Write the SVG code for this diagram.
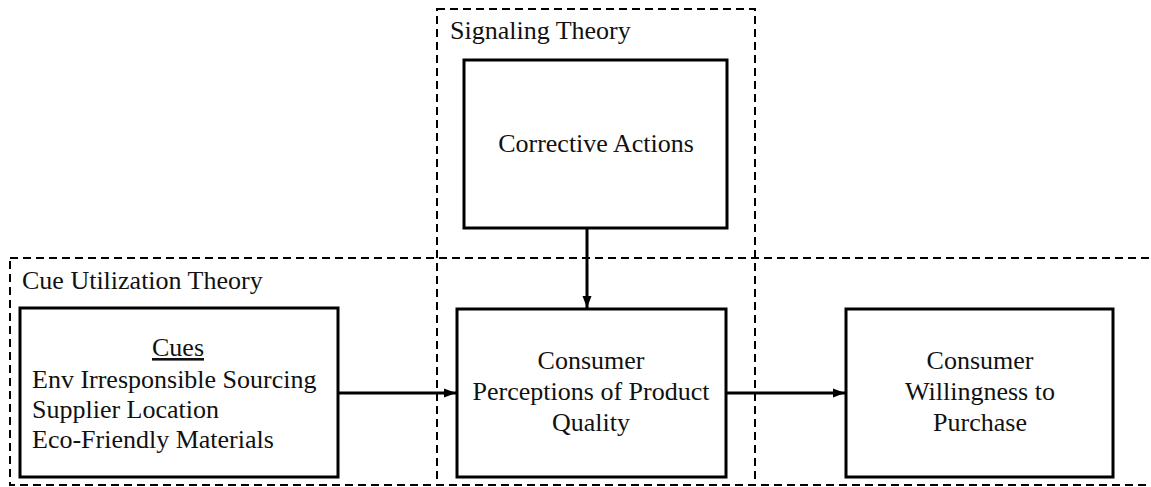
<svg xmlns="http://www.w3.org/2000/svg" width="1151" height="487" viewBox="0 0 1151 487">
<style>
.frame{fill:none;stroke:#000;stroke-width:2;stroke-dasharray:8,5}
.box{fill:#fff;stroke:#000;stroke-width:3}
.t{font-family:'Liberation Serif',Tinos,'Times New Roman',Times,serif;font-size:26px;fill:#111}
.c{text-anchor:middle}
.edge{stroke:#000;stroke-width:3;fill:none}
</style>
<defs>
<marker id="ah" viewBox="0 0 12 10" refX="12" refY="5" markerWidth="12" markerHeight="10" markerUnits="userSpaceOnUse" orient="auto">
<path d="M0,0.5 L12,5 L0,9.5 z" fill="#000"/>
</marker>
</defs>
<g id="cue-utilization-frame">
<rect class="frame" x="10" y="258" width="1150" height="227"/>
<text class="t" x="22" y="289">Cue Utilization Theory</text>
</g>
<g id="signaling-frame">
<rect class="frame" x="437" y="9" width="318" height="476"/>
<text class="t" x="450" y="39">Signaling Theory</text>
</g>
<g id="cues">
<rect class="box" x="20" y="308" width="318" height="169"/>
<text class="t c" x="178" y="356" text-decoration="underline">Cues</text>
<text class="t" x="32" y="388">Env Irresponsible Sourcing</text>
<text class="t" x="32" y="418">Supplier Location</text>
<text class="t" x="32" y="448">Eco-Friendly Materials</text>
</g>
<g id="corrective-actions">
<rect class="box" x="464" y="60" width="263" height="168"/>
<text class="t c" x="596" y="152">Corrective Actions</text>
</g>
<g id="perceptions">
<rect class="box" x="457" y="309" width="269" height="168"/>
<text class="t c" x="591" y="369">Consumer</text>
<text class="t c" x="591" y="400">Perceptions of Product</text>
<text class="t c" x="591" y="431">Quality</text>
</g>
<g id="willingness">
<rect class="box" x="846" y="309" width="267" height="168"/>
<text class="t c" x="980" y="369">Consumer</text>
<text class="t c" x="980" y="400">Willingness to</text>
<text class="t c" x="980" y="431">Purchase</text>
</g>
<g id="connectors">
<line class="edge" x1="338" y1="393" x2="456" y2="393" marker-end="url(#ah)"/>
<line class="edge" x1="726" y1="393" x2="845" y2="393" marker-end="url(#ah)"/>
<line class="edge" x1="587" y1="228" x2="587" y2="308" marker-end="url(#ah)"/>
</g>
</svg>
